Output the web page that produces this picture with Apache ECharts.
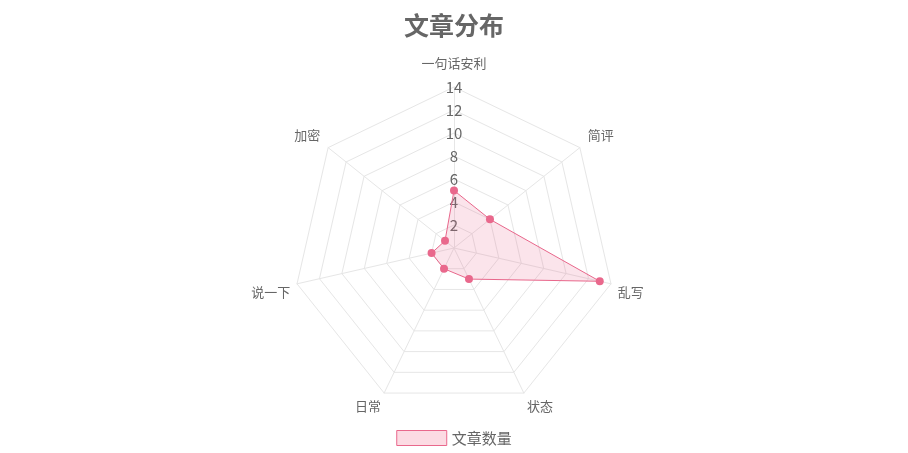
<!DOCTYPE html>
<html>
<head>
<meta charset="utf-8">
<script src="https://cdn.jsdelivr.net/npm/echarts@6/dist/echarts.min.js"></script>
<style>
html,body{margin:0;padding:0;background:#fff;}
#main{width:908px;height:453px;}
</style>
</head>
<body>
<div id="main"></div>
<script>
const titleText = '文章分布';
const seriesName = '文章数量';
// listed clockwise from the top, as in the picture
const indicatorNames = ['一句话安利', '简评', '乱写', '状态', '日常', '说一下', '加密'];
const indicatorMax = 14;
const values = [5, 4, 13, 3, 2, 2, 1];

// name placement per indicator (same clockwise order)
const nameLayout = [
  {gap: 17, align: 'center', va: 'bottom'},
  {gap: 10, align: 'left', va: 'bottom'},
  {gap: 7, align: 'left', va: 'top'},
  {gap: 7, align: 'left', va: 'top'},
  {gap: 7, align: 'right', va: 'top'},
  {gap: 7, align: 'right', va: 'top'},
  {gap: 10, align: 'right', va: 'bottom'}
];

const FONT = '"Noto Sans CJK SC", "Noto Sans", sans-serif';
const chart = echarts.init(document.getElementById('main'), null, {renderer: 'canvas'});

// ECharts lays indicators counter-clockwise; reverse all but the first to go clockwise
const order = [0].concat(indicatorNames.map((_, i) => i).slice(1).reverse());
const indicators = order.map((i, k) => {
  const o = {
    name: indicatorNames[i], max: indicatorMax, min: 0,
    nameGap: nameLayout[i].gap,
    nameTextStyle: {align: nameLayout[i].align, verticalAlign: nameLayout[i].va}
  };
  if (k === 0) o.axisLabel = {show: true};
  return o;
});
const orderedValues = order.map(i => values[i]);

chart.setOption({
  animation: false,
  backgroundColor: '#fff',
  title: {
    text: titleText,
    left: 'center',
    top: 8,
    textStyle: {fontSize: 25, fontWeight: 'bold', color: '#666', fontFamily: FONT}
  },
  legend: {
    data: [{name: seriesName, itemStyle: {color: '#fcdbe3', borderColor: '#e9688c', borderWidth: 1}}],
    top: 425,
    left: 'center',
    itemWidth: 50,
    itemHeight: 15,
    textStyle: {fontSize: 15, color: '#666', fontFamily: FONT},
    icon: 'rect'
  },
  radar: {
    center: ['50%', 248],
    radius: 161,
    startAngle: 90,
    splitNumber: 7,
    shape: 'polygon',
    indicator: indicators,
    axisName: {color: '#666', fontSize: 13, fontFamily: FONT},
    axisLine: {lineStyle: {color: '#e6e6e6'}},
    splitLine: {lineStyle: {color: '#e6e6e6'}},
    splitArea: {show: false},
    axisTick: {show: false},
    axisLabel: {show: false, showMinLabel: false, color: '#666', fontSize: 15, fontFamily: FONT, margin: 0,
      align: 'center', verticalAlign: 'middle', padding: [0, 0, 3, 0],
      formatter: v => (v === 0 ? '' : String(v))}
  },
  series: [{
    name: seriesName,
    type: 'radar',
    symbol: 'circle',
    symbolSize: 8,
    itemStyle: {color: '#e9688c'},
    lineStyle: {color: '#e9688c', width: 1},
    areaStyle: {color: 'rgba(233,104,140,0.25)'},
    data: [{value: orderedValues, name: seriesName}]
  }]
});
</script>
</body>
</html>
